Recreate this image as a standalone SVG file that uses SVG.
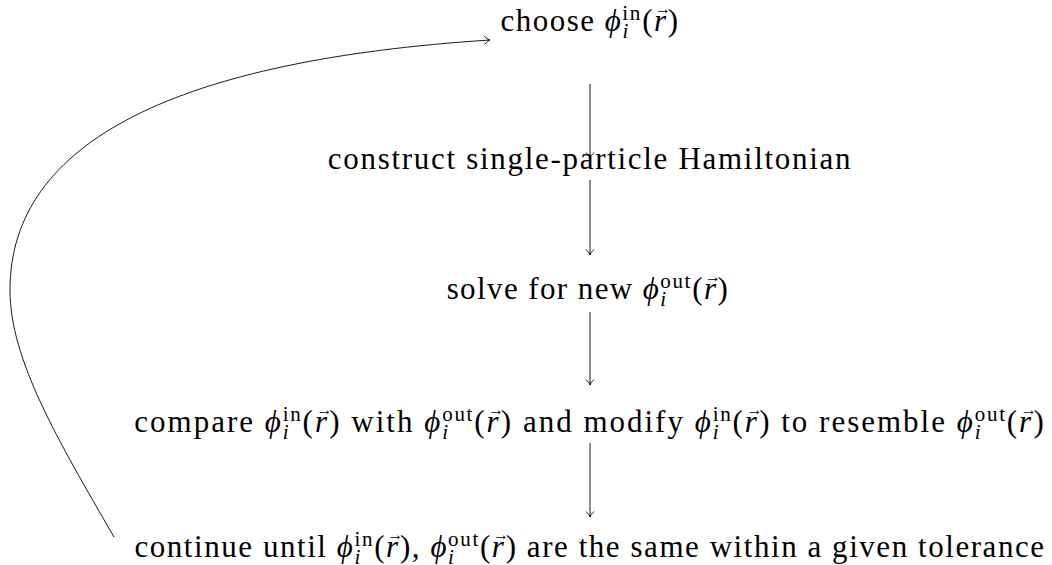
<svg xmlns="http://www.w3.org/2000/svg" width="1052" height="565" viewBox="0 0 1052 565">
<style>
text{font-size:31px;fill:#000}
.m{font-style:italic}
.s{font-size:21px;letter-spacing:1.7px}
.v{font-size:16px;letter-spacing:1.7px;font-style:normal}
.c{fill:none;stroke:#000;stroke-width:0.9}
</style>
<defs>
<marker id="ah" markerUnits="userSpaceOnUse" markerWidth="14" markerHeight="14" viewBox="-8 -7 10 14" refX="0" refY="0" orient="auto" overflow="visible">
<path d="M-5.5,-4.2 C-3.5,-1.6 -1.2,-0.4 0,0 C-1.2,0.4 -3.5,1.6 -5.5,4.2" fill="none" stroke="#000" stroke-width="0.9"/>
</marker>
</defs>
<rect width="1052" height="565" fill="#fff"/>
<g id="connectors">
<line class="c" x1="590" y1="84" x2="590" y2="158" marker-end="url(#ah)"/>
<line class="c" x1="590" y1="180" x2="590" y2="255" marker-end="url(#ah)"/>
<line class="c" x1="590" y1="312" x2="590" y2="385" marker-end="url(#ah)"/>
<line class="c" x1="590" y1="443" x2="590" y2="517" marker-end="url(#ah)"/>
<path class="c" d="M114,537 C58,440 10,360 10,290 C10,140 180,60 490,40" marker-end="url(#ah)"/>
</g>
<g id="n1">
<text font-family="Liberation Serif" letter-spacing="1.5" x="590" y="31" text-anchor="middle">choose <tspan class="m">ϕ</tspan><tspan class="s" dy="-11">in</tspan><tspan class="s m" dx="-19.7" dy="18">i</tspan><tspan dx="12.2" dy="-7">(</tspan><tspan class="m">r</tspan><tspan class="v" dx="-12.5" dy="-17">→</tspan><tspan dx="-5" dy="17">)</tspan></text>
</g>
<g id="n2">
<text font-family="Liberation Serif" letter-spacing="1.7" x="590" y="169" text-anchor="middle">construct single-particle Hamiltonian</text>
</g>
<g id="n3">
<text font-family="Liberation Serif" letter-spacing="1.4" x="588" y="299" text-anchor="middle">solve for new <tspan class="m">ϕ</tspan><tspan class="s" dy="-11">out</tspan><tspan class="s m" dx="-31.9" dy="18">i</tspan><tspan dx="24.4" dy="-7">(</tspan><tspan class="m">r</tspan><tspan class="v" dx="-12.5" dy="-17">→</tspan><tspan dx="-5" dy="17">)</tspan></text>
</g>
<g id="n4">
<text font-family="Liberation Serif" letter-spacing="2" x="590" y="432" text-anchor="middle">compare <tspan class="m">ϕ</tspan><tspan class="s" dy="-11">in</tspan><tspan class="s m" dx="-19.7" dy="18">i</tspan><tspan dx="12.2" dy="-7">(</tspan><tspan class="m">r</tspan><tspan class="v" dx="-12.5" dy="-17">→</tspan><tspan dx="-5" dy="17">)</tspan> with <tspan class="m">ϕ</tspan><tspan class="s" dy="-11">out</tspan><tspan class="s m" dx="-31.9" dy="18">i</tspan><tspan dx="24.4" dy="-7">(</tspan><tspan class="m">r</tspan><tspan class="v" dx="-12.5" dy="-17">→</tspan><tspan dx="-5" dy="17">)</tspan> and modify <tspan class="m">ϕ</tspan><tspan class="s" dy="-11">in</tspan><tspan class="s m" dx="-19.7" dy="18">i</tspan><tspan dx="12.2" dy="-7">(</tspan><tspan class="m">r</tspan><tspan class="v" dx="-12.5" dy="-17">→</tspan><tspan dx="-5" dy="17">)</tspan> to resemble <tspan class="m">ϕ</tspan><tspan class="s" dy="-11">out</tspan><tspan class="s m" dx="-31.9" dy="18">i</tspan><tspan dx="24.4" dy="-7">(</tspan><tspan class="m">r</tspan><tspan class="v" dx="-12.5" dy="-17">→</tspan><tspan dx="-5" dy="17">)</tspan></text>
</g>
<g id="n5">
<text font-family="Liberation Serif" letter-spacing="1.55" x="590" y="557" text-anchor="middle">continue until <tspan class="m">ϕ</tspan><tspan class="s" dy="-11">in</tspan><tspan class="s m" dx="-19.7" dy="18">i</tspan><tspan dx="12.2" dy="-7">(</tspan><tspan class="m">r</tspan><tspan class="v" dx="-12.5" dy="-17">→</tspan><tspan dx="-5" dy="17">)</tspan>, <tspan class="m">ϕ</tspan><tspan class="s" dy="-11">out</tspan><tspan class="s m" dx="-31.9" dy="18">i</tspan><tspan dx="24.4" dy="-7">(</tspan><tspan class="m">r</tspan><tspan class="v" dx="-12.5" dy="-17">→</tspan><tspan dx="-5" dy="17">)</tspan> are the same within a given tolerance</text>
</g>
</svg>
